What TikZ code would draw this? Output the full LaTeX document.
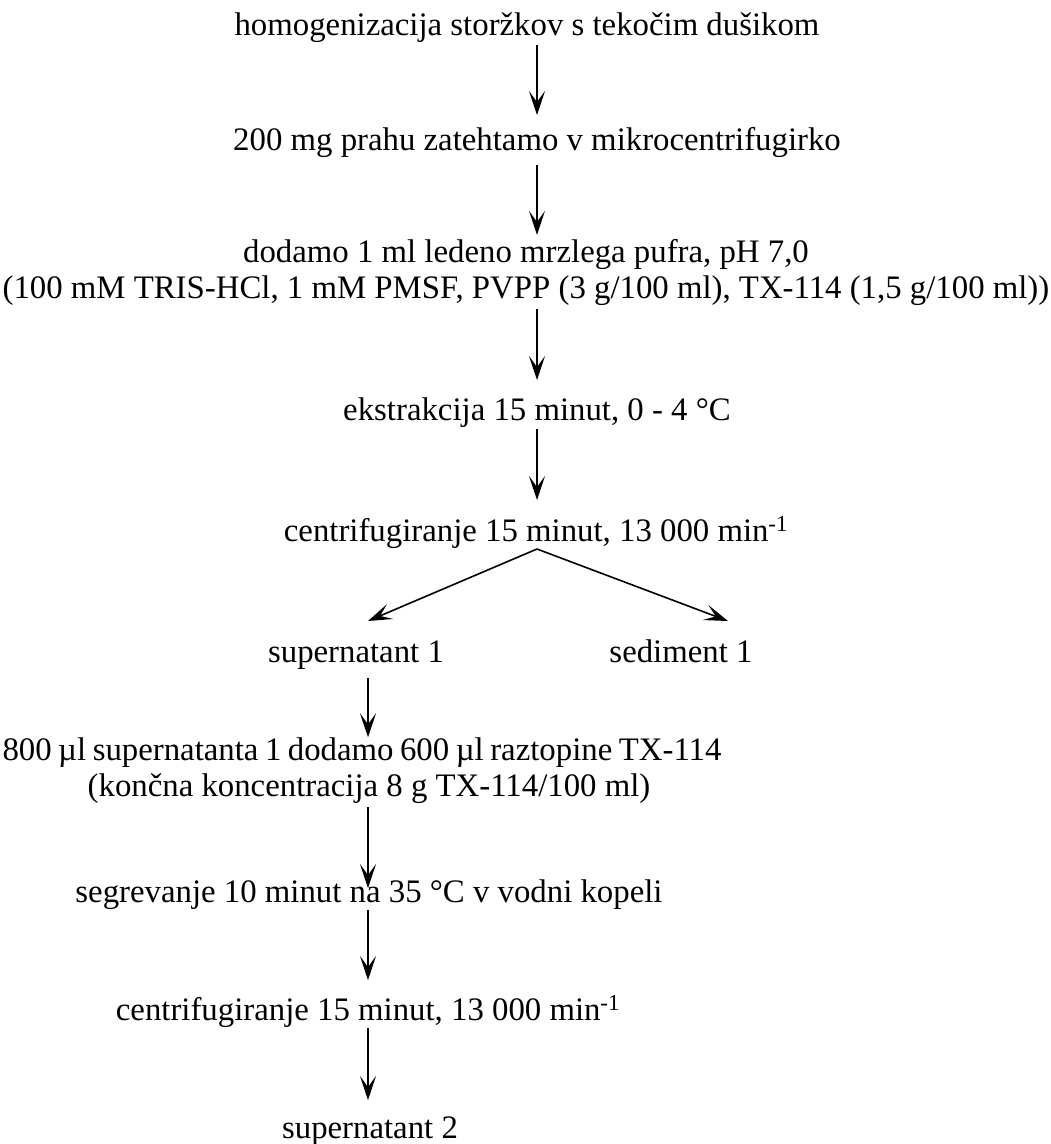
\documentclass[tikz,border=0pt]{standalone}
\usepackage{fontspec}
\setmainfont{Liberation Serif}
\usetikzlibrary{arrows.meta}

\tikzset{
  txt/.style={font=\fontsize{32.8}{36}\selectfont, inner sep=0pt, outer sep=0pt, align=center, anchor=base},
  one/.style={txt, text height=23pt, text depth=8pt},
  arr/.style={-{Stealth[length=24pt,width=16pt,inset=11pt]}, line width=1.6pt},
}

\begin{document}
\begin{tikzpicture}[x=1pt,y=-1pt]
    \useasboundingbox (0,0) rectangle (1051,1144);
    % Koraki
    \node[one] (hom) at (527,35) {homogenizacija storžkov s tekočim dušikom};
    \node[one] (prah) at (537,150) {200 mg prahu zatehtamo v mikrocentrifugirko};
    \node[txt] (pufer) at (526,298) {dodamo 1 ml ledeno mrzlega pufra, pH 7,0\\(100 mM TRIS-HCl, 1 mM PMSF, PVPP (3 g/100 ml), TX-114 (1,5 g/100 ml))};
    \node[one] (ekstr) at (537,420) {ekstrakcija 15 minut, 0 - 4 °C};
    \node[one] (cent1) at (536,541) {centrifugiranje 15 minut, 13 000 min\textsuperscript{-1}};
    \node[one] (sup1) at (356,662) {supernatant 1};
    \node[one] (sed1) at (681,662) {sediment 1};
    \node[txt] (tx) at (369,796) {{\spaceskip=6.5pt\relax 800 µl supernatanta 1 dodamo 600 µl raztopine TX-114}\hspace*{14pt}\\(končna koncentracija 8 g TX-114/100 ml)};
    \node[one] (segr) at (369,902) {segrevanje 10 minut na 35 °C v vodni kopeli};
    \node[one] (cent2) at (368,1020) {centrifugiranje 15 minut, 13 000 min\textsuperscript{-1}};
    \node[one] (sup2) at (370,1138) {supernatant 2};
    % Puscice
    \draw[arr, shorten <=2pt, shorten >=12pt] (hom.south -| prah) -- (prah.north -| prah);
    \draw[arr, shorten <=7pt, shorten >=4pt] (prah.south -| prah) -- (pufer.north -| prah);
    \draw[arr, shorten <=4pt, shorten >=17pt] (pufer.south -| prah) -- (ekstr.north -| prah);
    \draw[arr, shorten <=1pt, shorten >=18pt] (ekstr.south -| prah) -- (cent1.north -| prah);
    \draw[arr] (cent1.south -| prah) -- ([xshift=12pt,yshift=18pt]sup1.north);
    \draw[arr] (cent1.south -| prah) -- ([xshift=47pt,yshift=18pt]sed1.north);
    \draw[arr, shorten <=8pt] ([xshift=12pt]sup1.south) -- (tx.north -| cent2);
    \draw[arr, shorten <=4pt, shorten >=14pt] (tx.south -| cent2) -- (segr.base -| cent2);
    \draw[arr, shorten >=17pt] (segr.south -| cent2) -- (cent2.north);
    \draw[arr, shorten >=15pt] (cent2.south) -- (sup2.north -| cent2);
\end{tikzpicture}
\end{document}
